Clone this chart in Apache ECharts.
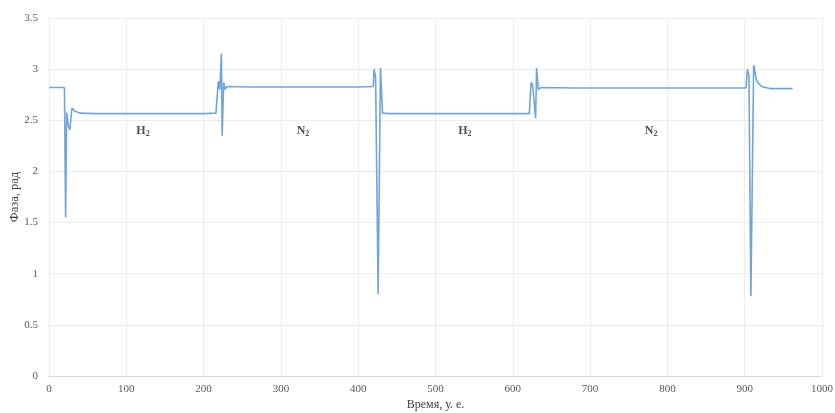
<!DOCTYPE html>
<html>
<head>
<meta charset="utf-8">
<script src="https://cdn.jsdelivr.net/npm/echarts@6/dist/echarts.min.js"></script>
<style>
  html, body { margin: 0; padding: 0; background: #ffffff; }
  #chart { width: 835px; height: 413px; }
</style>
</head>
<body>
<div id="chart"></div>
<script>
// Time samples (arbitrary units) and measured phase (rad)
const times = [
  0, 10, 20, 21.5, 22.9, 25, 27, 29.7, 33, 40, 60, 100, 150, 200, 216,
  219, 221, 223, 224, 226, 227.5, 230, 260, 300, 350, 400, 419.6,
  420.5, 422.5, 425.8, 428.8, 431.5, 440, 500, 560, 621.4,
  623.5, 625.5, 629.5, 630.8, 633, 636, 680, 750, 820, 880, 901.7,
  903.4, 905.5, 908, 911.6, 915.4, 921.8, 932.7, 962
];
const phases = [
  2.82, 2.82, 2.82, 1.55, 2.575, 2.45, 2.405, 2.62, 2.59, 2.57, 2.565, 2.565, 2.565, 2.565, 2.57,
  2.88, 2.80, 3.15, 2.35, 2.87, 2.80, 2.83, 2.825, 2.825, 2.825, 2.825, 2.83,
  3.00, 2.92, 0.80, 3.01, 2.57, 2.565, 2.565, 2.565, 2.565,
  2.87, 2.85, 2.52, 3.01, 2.80, 2.82, 2.815, 2.815, 2.815, 2.815, 2.815,
  3.00, 2.94, 0.78, 3.04, 2.885, 2.83, 2.81, 2.81
];

// Gas labels placed over the plateaus
const gasNames = ['H', 'N', 'H', 'N'];
const gasX = [121.6, 328.6, 538, 779];
const gasY = [2.40, 2.40, 2.40, 2.40];

const xTicks = { min: 0, max: 1000, interval: 100 };
const yTicks = { min: 0, max: 3.5, interval: 0.5 };

const serif = 'Liberation Serif';

const chart = echarts.init(document.getElementById('chart'), null, { renderer: 'canvas' });

chart.setOption({
  animation: false,
  backgroundColor: '#ffffff',
  grid: { left: 49, right: 13, top: 18, bottom: 37, containLabel: false, outerBoundsMode: 'none' },
  xAxis: {
    type: 'value',
    min: xTicks.min, max: xTicks.max, interval: xTicks.interval,
    name: 'Время, у. е.',
    nameLocation: 'middle',
    nameGap: 23,
    nameMoveOverlap: false,
    nameTextStyle: { fontFamily: serif, fontSize: 12, color: '#404040' },
    axisLine: { show: true, lineStyle: { color: '#d9d9d9', width: 1 } },
    axisTick: { show: false },
    axisLabel: { fontFamily: serif, fontSize: 11, color: '#595959', margin: 8, formatter: v => String(v) },
    splitLine: { show: true, lineStyle: { color: '#ececec', width: 1 } }
  },
  yAxis: {
    type: 'value',
    min: yTicks.min, max: yTicks.max, interval: yTicks.interval,
    name: 'Фаза, рад',
    nameLocation: 'middle',
    nameGap: 28,
    nameMoveOverlap: false,
    nameTextStyle: { fontFamily: serif, fontSize: 12.5, color: '#404040' },
    axisLine: { show: false },
    axisTick: { show: false },
    axisLabel: { fontFamily: serif, fontSize: 11, color: '#595959', margin: 11, formatter: v => String(v) },
    splitLine: { show: true, lineStyle: { color: '#ececec', width: 1 } }
  },
  series: [
    {
      type: 'line',
      data: times.map((t, i) => [t, phases[i]]),
      showSymbol: false,
      smooth: false,
      lineStyle: { color: '#6fa5da', width: 1.6 },
      z: 3
    },
    {
      type: 'scatter',
      symbolSize: 0,
      data: gasX.map((x, i) => ({ value: [x, gasY[i]], name: gasNames[i] })),
      label: {
        show: true,
        position: 'inside',
        formatter: p => '{b|' + p.name + '}{s|2}',
        rich: {
          b: { fontFamily: serif, fontSize: 12, fontWeight: 'bold', color: '#262626' },
          s: { fontFamily: serif, fontSize: 8, fontWeight: 'bold', color: '#262626', padding: [7, 0, 0, 0] }
        }
      },
      silent: true,
      z: 4
    }
  ]
});
</script>
</body>
</html>
